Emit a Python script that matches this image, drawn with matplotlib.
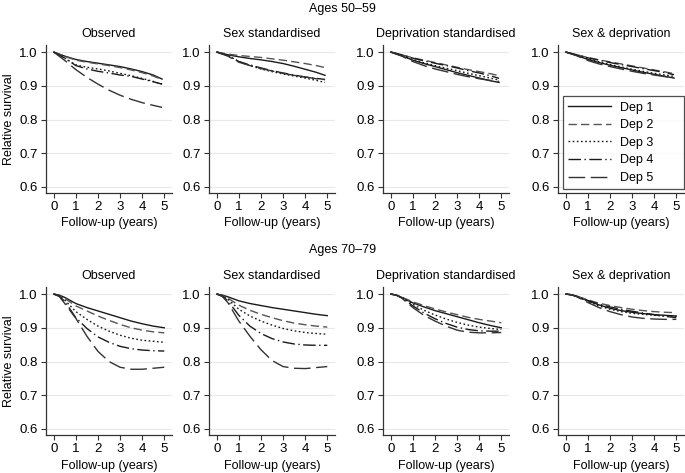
import matplotlib
matplotlib.use('Agg')
from matplotlib import pyplot as plt

plt.rcParams['font.family'] = ['Liberation Sans', 'DejaVu Sans']
plt.rcParams['font.size'] = 9

# follow-up times (years)
t_top = [0, 0.5, 1, 1.5, 2, 2.5, 3, 3.5, 4, 4.5, 4.9]
t_bot = [0, 0.25, 0.5, 1, 1.5, 2, 2.5, 3, 3.5, 4, 4.5, 5]

panel_titles = ['Observed', 'Sex standardised', 'Deprivation standardised', 'Sex & deprivation']
row_titles = ['Ages 50\u201359', 'Ages 70\u201379']
dep_labels = ['Dep 1', 'Dep 2', 'Dep 3', 'Dep 4', 'Dep 5']

# ages 50-59
obs_50 = [
    [1.0, 0.988, 0.978, 0.972, 0.967, 0.962, 0.957, 0.950, 0.942, 0.932, 0.920],
    [1.0, 0.987, 0.976, 0.970, 0.965, 0.960, 0.954, 0.947, 0.939, 0.929, 0.918],
    [1.0, 0.982, 0.962, 0.955, 0.950, 0.944, 0.937, 0.930, 0.922, 0.913, 0.905],
    [1.0, 0.982, 0.960, 0.950, 0.943, 0.938, 0.932, 0.928, 0.920, 0.912, 0.905],
    [1.0, 0.975, 0.948, 0.925, 0.905, 0.887, 0.872, 0.860, 0.850, 0.842, 0.836],
]
sex_50 = [
    [1.0, 0.992, 0.986, 0.981, 0.977, 0.972, 0.966, 0.958, 0.949, 0.940, 0.931],
    [1.0, 0.994, 0.990, 0.987, 0.984, 0.980, 0.976, 0.971, 0.966, 0.960, 0.954],
    [1.0, 0.990, 0.972, 0.960, 0.950, 0.942, 0.935, 0.929, 0.923, 0.916, 0.910],
    [1.0, 0.990, 0.972, 0.962, 0.953, 0.945, 0.938, 0.932, 0.926, 0.922, 0.919],
    [1.0, 0.988, 0.970, 0.960, 0.951, 0.944, 0.937, 0.931, 0.926, 0.921, 0.918],
]
dep_50 = [
    [1.0, 0.989, 0.976, 0.966, 0.957, 0.948, 0.939, 0.931, 0.923, 0.915, 0.910],
    [1.0, 0.992, 0.983, 0.976, 0.969, 0.962, 0.955, 0.948, 0.942, 0.936, 0.930],
    [1.0, 0.990, 0.978, 0.968, 0.960, 0.952, 0.945, 0.937, 0.930, 0.923, 0.917],
    [1.0, 0.992, 0.982, 0.974, 0.967, 0.960, 0.953, 0.945, 0.938, 0.930, 0.922],
    [1.0, 0.988, 0.972, 0.960, 0.950, 0.942, 0.934, 0.927, 0.921, 0.916, 0.913],
]
sexdep_50 = [
    [1.0, 0.990, 0.978, 0.969, 0.961, 0.954, 0.947, 0.940, 0.934, 0.928, 0.923],
    [1.0, 0.992, 0.984, 0.977, 0.971, 0.965, 0.959, 0.953, 0.947, 0.941, 0.936],
    [1.0, 0.991, 0.980, 0.971, 0.963, 0.956, 0.949, 0.943, 0.937, 0.932, 0.928],
    [1.0, 0.992, 0.983, 0.976, 0.969, 0.963, 0.957, 0.951, 0.945, 0.939, 0.933],
    [1.0, 0.989, 0.975, 0.965, 0.957, 0.950, 0.943, 0.937, 0.932, 0.927, 0.924],
]

# ages 70-79
obs_70 = [
    [1.0, 0.997, 0.990, 0.972, 0.960, 0.950, 0.940, 0.930, 0.920, 0.912, 0.905, 0.900],
    [1.0, 0.996, 0.987, 0.965, 0.950, 0.935, 0.922, 0.910, 0.900, 0.893, 0.888, 0.885],
    [1.0, 0.995, 0.982, 0.948, 0.925, 0.905, 0.890, 0.878, 0.869, 0.863, 0.860, 0.857],
    [1.0, 0.994, 0.978, 0.930, 0.898, 0.873, 0.857, 0.845, 0.838, 0.834, 0.832, 0.831],
    [1.0, 0.993, 0.972, 0.928, 0.875, 0.830, 0.800, 0.783, 0.777, 0.777, 0.780, 0.783],
]
sex_70 = [
    [1.0, 0.997, 0.992, 0.980, 0.972, 0.966, 0.960, 0.955, 0.950, 0.945, 0.940, 0.936],
    [1.0, 0.996, 0.988, 0.967, 0.952, 0.940, 0.930, 0.921, 0.914, 0.909, 0.905, 0.902],
    [1.0, 0.995, 0.985, 0.955, 0.935, 0.920, 0.908, 0.898, 0.891, 0.886, 0.883, 0.881],
    [1.0, 0.994, 0.980, 0.937, 0.905, 0.883, 0.868, 0.858, 0.852, 0.849, 0.848, 0.848],
    [1.0, 0.993, 0.975, 0.920, 0.875, 0.835, 0.803, 0.785, 0.780, 0.779, 0.782, 0.785],
]
dep_70 = [
    [1.0, 0.997, 0.990, 0.974, 0.962, 0.951, 0.942, 0.933, 0.924, 0.915, 0.907, 0.900],
    [1.0, 0.997, 0.991, 0.977, 0.966, 0.956, 0.947, 0.939, 0.931, 0.925, 0.920, 0.915],
    [1.0, 0.997, 0.990, 0.970, 0.952, 0.938, 0.926, 0.916, 0.908, 0.902, 0.898, 0.895],
    [1.0, 0.997, 0.989, 0.965, 0.944, 0.927, 0.913, 0.902, 0.895, 0.891, 0.890, 0.890],
    [1.0, 0.997, 0.988, 0.960, 0.937, 0.920, 0.905, 0.893, 0.887, 0.885, 0.885, 0.886],
]
sexdep_70 = [
    [1.0, 0.998, 0.993, 0.980, 0.968, 0.958, 0.951, 0.946, 0.942, 0.939, 0.937, 0.935],
    [1.0, 0.998, 0.994, 0.983, 0.973, 0.966, 0.960, 0.955, 0.951, 0.948, 0.946, 0.945],
    [1.0, 0.998, 0.993, 0.978, 0.965, 0.955, 0.948, 0.943, 0.940, 0.937, 0.935, 0.934],
    [1.0, 0.998, 0.994, 0.981, 0.970, 0.962, 0.955, 0.949, 0.944, 0.939, 0.934, 0.930],
    [1.0, 0.998, 0.992, 0.975, 0.960, 0.948, 0.939, 0.932, 0.928, 0.926, 0.925, 0.925],
]

rows = [(t_top, [obs_50, sex_50, dep_50, sexdep_50]),
        (t_bot, [obs_70, sex_70, dep_70, sexdep_70])]

styles = ['-', (0, (6, 3)), (0, (1.2, 1.8)), (0, (9, 2.5, 1, 2.5)), (0, (12, 4))]
colors = ['#1a1a1a', '#555555', '#1a1a1a', '#1a1a1a', '#333333']

fig = plt.figure(figsize=(6.85, 4.73), dpi=100)

W, H = 685.0, 473.0
lefts = [46, 209, 383, 558]
tops = [45, 287]
aw, ah = 126, 148

for r, (t, panels) in enumerate(rows):
    for c, data in enumerate(panels):
        ax = fig.add_axes([lefts[c] / W, 1 - (tops[r] + ah) / H, aw / W, ah / H])
        for k in range(5):
            ax.plot(t, data[k], linestyle=styles[k], color=colors[k], lw=1.0,
                    label=dep_labels[k])
        ax.set_xlim(-0.35, 5.35)
        ax.set_ylim(0.582, 1.021)
        ax.set_xticks([0, 1, 2, 3, 4, 5])
        ax.set_yticks([0.6, 0.7, 0.8, 0.9, 1.0])
        ax.set_yticklabels(['0.6', '0.7', '0.8', '0.9', '1.0'])
        ax.yaxis.grid(True, color='#e8e8e8', lw=0.8)
        ax.set_axisbelow(True)
        for s in ['top', 'right']:
            ax.spines[s].set_visible(False)
        for s in ['left', 'bottom']:
            ax.spines[s].set_color('#333333')
            ax.spines[s].set_linewidth(0.9)
        ax.tick_params(length=3.5, width=0.8, color='#333333', labelsize=9.5, pad=2.5)
        ax.set_title(panel_titles[c], fontsize=9, pad=6)
        ax.set_xlabel('Follow-up (years)', fontsize=9, labelpad=3)
        if c == 0:
            ax.set_ylabel('Relative survival', fontsize=9, labelpad=3)
        if r == 0 and c == 3:
            leg = ax.legend(loc='lower left',
                            bbox_to_anchor=(563 / W, 1 - 189 / H, 121 / W, 95 / H),
                            bbox_transform=fig.transFigure, mode='expand', fontsize=9,
                            handlelength=3.4, handletextpad=0.8, labelspacing=0.45,
                            borderpad=0.4, borderaxespad=0, fancybox=False)
            leg.get_frame().set_edgecolor('#222222')
            leg.get_frame().set_linewidth(0.9)

fig.text(0.5, 1 - 9 / H, row_titles[0], ha='center', va='center', fontsize=9)
fig.text(0.5, 1 - 250 / H, row_titles[1], ha='center', va='center', fontsize=9)

fig.savefig('out.png', dpi=100)
